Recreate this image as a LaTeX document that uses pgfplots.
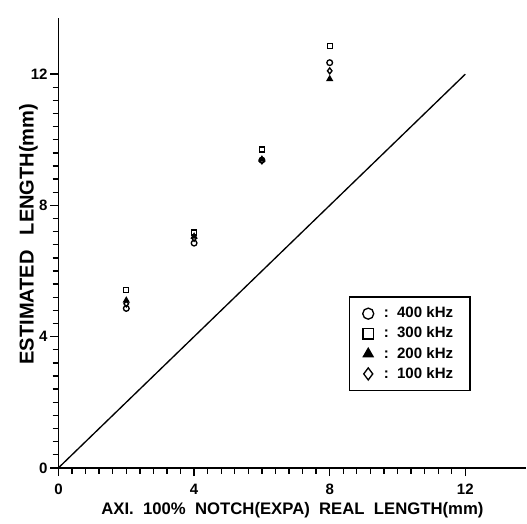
\documentclass[border=0pt]{standalone}
\usepackage{fontspec}
\setmainfont{Liberation Sans}
\usepackage{pgfplots}
\pgfplotsset{compat=1.18}

\begin{document}
\begin{tikzpicture}
\begin{axis}[
  width=280pt, height=269pt, scale only axis,
  xmin=0, xmax=13.8, ymin=0, ymax=13.7,
  axis x line=bottom, axis y line=left,
  axis line style={-, thick},
  xtick={0,4,8,12}, ytick={0,4,8,12},
  minor tick num=9,
  tick align=outside,
  major tick length=5pt, minor tick length=3.5pt,
  every tick/.style={black, thick},
  /pgf/number format/assume math mode=true,
  ticklabel style={font=\small\bfseries},
  xticklabel style={yshift=-1pt},
  yticklabel style={xshift=2pt},
  xlabel={AXI.\ \ 100\%\ \ NOTCH(EXPA)\ \ REAL\ \ LENGTH(mm)},
  ylabel={ESTIMATED\hspace{9pt}LENGTH(mm)},
  xlabel style={font=\normalsize\bfseries, at={(axis description cs:0.5,-0.095)}, anchor=center},
  ylabel style={font=\large\bfseries, at={(axis description cs:-0.064,0.52)}, anchor=center},
  legend style={at={(axis cs:8.56,5.23)}, anchor=north west, draw=black, thick,
    font=\small\bfseries, row sep=0pt, inner xsep=8pt, inner ysep=4pt,
    /tikz/every odd column/.append style={text width=52pt}},
  legend cell align=left,
]
\addplot [only marks, mark=o, mark size=1.7pt, thick,
  legend image post style={mark size=3.3pt}] coordinates {
(2,4.86) (4,6.85) (6,9.38) (8,12.35)
};
\addlegendentry{\hspace{4pt}:\ \ 400 kHz}
\addplot [only marks, mark=square, mark size=1.5pt, thick,
  legend image post style={mark size=3.2pt}] coordinates {
(2,5.42) (4,7.17) (6,9.70) (8,12.85)
};
\addlegendentry{\hspace{4pt}:\ \ 300 kHz}
\addplot [only marks, mark=triangle*, mark size=1.8pt, thick,
  legend image post style={mark size=3.3pt}] coordinates {
(2,5.10) (4,7.05) (6,9.40) (8,11.85)
};
\addlegendentry{\hspace{4pt}:\ \ 200 kHz}
\addplot [only marks, mark=diamond, mark size=1.8pt, thick,
  legend image post style={mark size=3.6pt}] coordinates {
(2,5.00) (4,7.00) (6,9.36) (8,12.10)
};
\addlegendentry{\hspace{4pt}:\ \ 100 kHz}
\addplot [black, thick, forget plot] coordinates {(0,0) (12,12)};
\end{axis}
\path ([yshift=11pt]current axis.north west);
\path ([xshift=-35pt]current axis.south west);
\end{tikzpicture}
\end{document}
